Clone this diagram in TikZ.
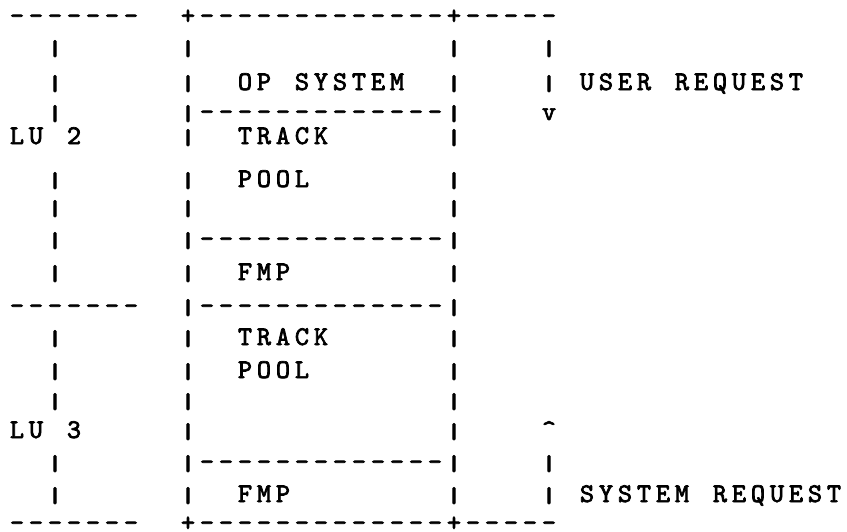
\documentclass[tikz,border=0pt]{standalone}
\usepackage{fontspec}
\usepackage{graphicx}
\newfontfamily\typewriter{lmmono10-regular.otf}[FakeBold=2.6]

% one typewriter cell per character, so every glyph sits on a fixed grid;
% the bar key of the machine strikes a shorter stroke than the font's bar
\newlength\cellw
\setlength\cellw{19pt}
\ExplSyntaxOn
\NewDocumentCommand\typed{m}
  {
    \str_map_inline:nn {#1}
      {
        \str_if_eq:nnTF {##1} {|}
          { \makebox[\cellw][c]{\raisebox{-0.3pt}{\scalebox{1.3}[0.8]{|}}} }
          { \makebox[\cellw][c]{##1} }
      }
  }
\ExplSyntaxOff

\tikzset{
  tw/.style={font=\fontsize{27}{27}\selectfont\typewriter,
             inner sep=0pt, outer sep=0pt, anchor=base west}
}
% \tline{name}{column}{baseline}{characters}
\newcommand\tline[4]{\node[tw] (#1) at ({7.5+19*#2},#3) {\typed{#4}};}

\begin{document}
\begin{tikzpicture}[x=1pt,y=-1pt]
\useasboundingbox (0,0) rectangle (847,531);

% top, middle and bottom rules
\tline{topL}{0}{24}{-------}
\tline{topR}{9}{24}{+-------------+-----}
\tline{midL}{0}{314}{-------}
\tline{botL}{0}{531}{-------}
\tline{botR}{9}{531}{+-------------+-----}

% left bracket column
\foreach \y [count=\i] in {55,90,120,187,215,247,280,345,378,408,470,502}
  {\tline{lb\i}{2}{\y}{|}}
\tline{lu2}{0}{144}{LU 2}
\tline{lu3}{0}{438}{LU 3}

% memory box: left and right walls
\foreach \y [count=\i] in {55,90,144,187,215,280,345,378,408,438,502}
  {\tline{wl\i}{9}{\y}{|}
   \tline{wr\i}{23}{\y}{|}}
% partitions inside the box
\tline{sep1}{9}{120}{|-------------|}
\tline{sep2}{9}{247}{|-------------|}
\tline{sep3}{9}{314}{|-------------|}
\tline{sep4}{9}{470}{|-------------|}

% box contents
\tline{os}{12}{90}{OP SYSTEM}
\tline{track1}{12}{144}{TRACK}
\tline{pool1}{12}{187}{POOL}
\tline{fmp1}{12}{280}{FMP}
\tline{track2}{12}{345}{TRACK}
\tline{pool2}{12}{378}{POOL}
\tline{fmp2}{12}{502}{FMP}

% request arrows
\tline{ua1}{28}{55}{|}
\tline{ua2}{28}{90}{|}
\tline{uhead}{28}{120}{v}
\tline{shead}{28}{438}{^}
\tline{sa1}{28}{470}{|}
\tline{sa2}{28}{502}{|}
\tline{user}{30}{90}{USER REQUEST}
\tline{sys}{30}{502}{SYSTEM REQUEST}
\end{tikzpicture}
\end{document}
